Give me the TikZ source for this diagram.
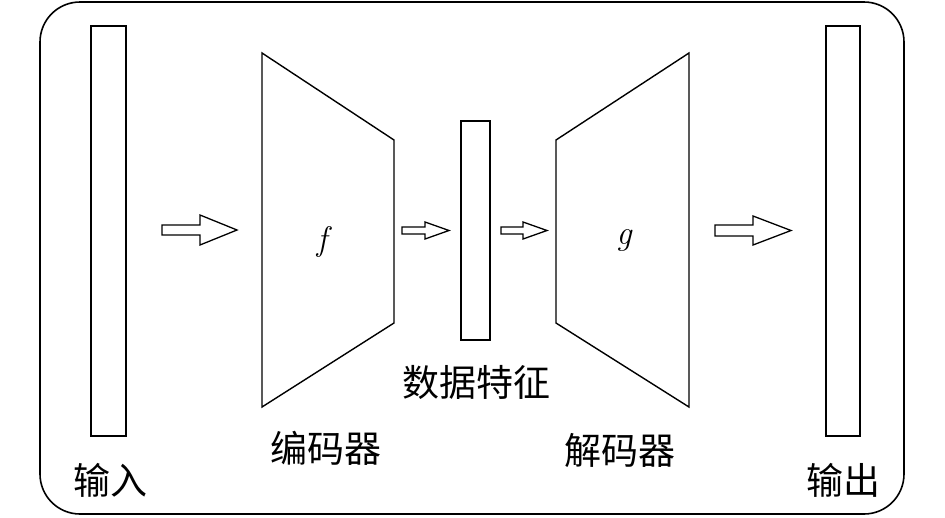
\documentclass[tikz,border=0pt]{standalone}
\usepackage{fontspec}
\newfontfamily\cjk{Noto Sans CJK SC}
\begin{document}
\begin{tikzpicture}[x=1pt,y=-1pt,
  bar/.style={draw, line width=1.4pt, minimum width=#1, inner sep=0pt},
  shapeline/.style={draw, line width=1.4pt, line join=miter},
  label/.style={font=\cjk\fontsize{37}{40}\selectfont, inner sep=0pt},
  mathlabel/.style={font=\rmfamily\itshape\fontsize{34}{36}\selectfont, inner sep=0pt},
  fatarrow/.style={draw, line width=1.3pt, line join=miter}
]
\useasboundingbox (0,0) rectangle (945,517);
\draw[line width=1.6pt, rounded corners=40pt] (40,2) rectangle (904,514);

% bars
\node[bar=35, minimum height=410] (in) at (108.5,231) {};
\node[bar=34, minimum height=410] (out) at (843,231) {};
\node[bar=29, minimum height=219] (feat) at (475.5,230.5) {};

% encoder / decoder trapezoids
\draw[shapeline] (262,53) -- (394,140) -- (394,323) -- (262,407) -- cycle;
\draw[shapeline] (556,140) -- (689,53) -- (689,407) -- (556,323) -- cycle;
\node[mathlabel] (f) at (322,242) {f};
\node[mathlabel] (g) at (624,240) {g};

% arrows
\draw[fatarrow] (162,225) -- (200,225) -- (200,215) -- (237,230) -- (200,245) -- (200,235) -- (162,235) -- cycle;
\draw[fatarrow] (402,227) -- (425,227) -- (425,222) -- (449,230.5) -- (425,239) -- (425,234) -- (402,234) -- cycle;
\draw[fatarrow] (501,227) -- (523,227) -- (523,222) -- (547,230.5) -- (523,239) -- (523,234) -- (501,234) -- cycle;
\draw[fatarrow] (715,225) -- (753,225) -- (753,216) -- (791,230.5) -- (753,245) -- (753,236) -- (715,236) -- cycle;

% labels
\node[label] (lin) at (110,480) {输入};
\node[label] (lout) at (843,480) {输出};
\node[label] (lenc) at (326,448) {编码器};
\node[label] (ldec) at (620,450) {解码器};
\node[label] (lfeat) at (476,382) {数据特征};
\end{tikzpicture}
\end{document}
